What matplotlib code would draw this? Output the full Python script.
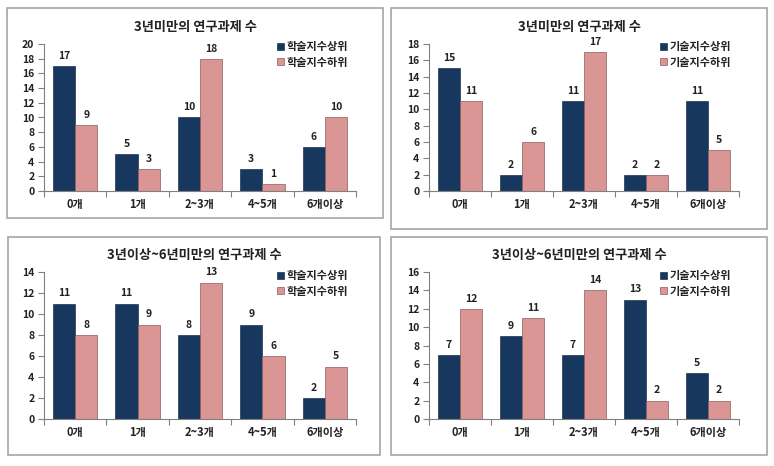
import matplotlib
matplotlib.use("Agg")
import matplotlib.pyplot as plt
from matplotlib.patches import Rectangle
import numpy as np

plt.rcParams['font.family'] = ['Noto Sans CJK KR', 'DejaVu Sans']

categories = ['0개', '1개', '2~3개', '4~5개', '6개이상']

titles = ['3년미만의 연구과제 수', '3년미만의 연구과제 수',
          '3년이상~6년미만의 연구과제 수', '3년이상~6년미만의 연구과제 수']

legend_a = ['학술지수상위', '학술지수하위']
legend_b = ['기술지수상위', '기술지수하위']

p1_high = [17, 5, 10, 3, 6]
p1_low = [9, 3, 18, 1, 10]
p2_high = [15, 2, 11, 2, 11]
p2_low = [11, 6, 17, 2, 5]
p3_high = [11, 11, 8, 9, 2]
p3_low = [8, 9, 13, 6, 5]
p4_high = [7, 9, 7, 13, 5]
p4_low = [12, 11, 14, 2, 2]

ymax = [20, 18, 14, 16]

W, H = 774, 466
fig = plt.figure(figsize=(W / 100, H / 100), dpi=100)
fig.patch.set_facecolor('white')

NAVY = '#17375E'
PINK = '#D99694'

# panel frames (px: left, top, right, bottom)
frames = [(7, 8, 383, 218), (391, 8, 767, 229), (8, 237, 380, 455), (391, 237, 767, 455)]
# axes (px: left, top, right, bottom)
axes_px = [(44, 44, 356, 191), (429, 44, 739, 191), (44, 272, 356, 419), (429, 272, 739, 419)]
title_y = [27, 27, 255, 255]
legend_pos = [(277, 48), (660, 48), (277, 277), (660, 277)]

data = [(p1_high, p1_low, legend_a), (p2_high, p2_low, legend_b),
        (p3_high, p3_low, legend_a), (p4_high, p4_low, legend_b)]

for i in range(4):
    l, t, r, b = frames[i]
    fig.patches.append(Rectangle((l / W, 1 - b / H), (r - l) / W, (b - t) / H,
                                 transform=fig.transFigure, fill=False,
                                 edgecolor='#A6A6A6', linewidth=1.2))
    al, at, ar, ab = axes_px[i]
    ax = fig.add_axes([al / W, 1 - ab / H, (ar - al) / W, (ab - at) / H])
    high, low, leg = data[i]
    x = np.arange(len(categories))
    bw = 0.357
    b1 = ax.bar(x - bw / 2, high, bw, color=NAVY, edgecolor='#1F3350', linewidth=0.5, label=leg[0])
    b2 = ax.bar(x + bw / 2, low, bw, color=PINK, edgecolor='#8C5A58', linewidth=0.5, label=leg[1])
    for xi, v in zip(x, high):
        ax.text(xi - bw / 2, v + ymax[i] * 0.035, str(v), ha='center', va='bottom',
                fontsize=7.5, fontweight='bold', color='#222222')
    for xi, v in zip(x, low):
        ax.text(xi + bw / 2, v + ymax[i] * 0.035, str(v), ha='center', va='bottom',
                fontsize=7.5, fontweight='bold', color='#222222')
    ax.set_xlim(-0.5, len(categories) - 0.5)
    ax.set_ylim(0, ymax[i])
    ax.set_yticks(np.arange(0, ymax[i] + 1, 2))
    ax.set_xticks(np.arange(-0.5, len(categories), 1.0))
    ax.set_xticklabels([])
    ax.set_xticks(x, minor=True)
    ax.set_xticklabels(categories, minor=True)
    ax.tick_params(axis='x', which='minor', length=0, pad=5, labelsize=8)
    ax.tick_params(axis='x', which='major', length=4, direction='out', color='#808080')
    ax.tick_params(axis='y', length=4, direction='out', color='#808080', labelsize=7.5, pad=3)
    for lab in ax.get_xticklabels(minor=True):
        lab.set_fontweight('bold')
        lab.set_color('#222222')
    for lab in ax.get_yticklabels():
        lab.set_fontweight('bold')
        lab.set_color('#222222')
    for s in ['top', 'right']:
        ax.spines[s].set_visible(False)
    for s in ['left', 'bottom']:
        ax.spines[s].set_color('#808080')
        ax.spines[s].set_linewidth(0.8)
    ax.patch.set_alpha(0)
    # title
    fig.text(((l + r) / 2) / W, 1 - title_y[i] / H, titles[i], ha='center', va='center',
             fontsize=9.5, fontweight='bold', color='#222222')
    lx, ly = legend_pos[i]
    lg = fig.legend(handles=[b1, b2], labels=leg, loc='upper left',
                    bbox_to_anchor=(lx / W, 1 - (ly - 8) / H), frameon=False,
                    fontsize=8, handlelength=0.6, handleheight=0.6, handletextpad=0.3,
                    labelspacing=0.25, borderaxespad=0, borderpad=0)
    for txt in lg.get_texts():
        txt.set_fontweight('bold')
        txt.set_color('#222222')

fig.savefig('out.png', dpi=100, facecolor='white')
